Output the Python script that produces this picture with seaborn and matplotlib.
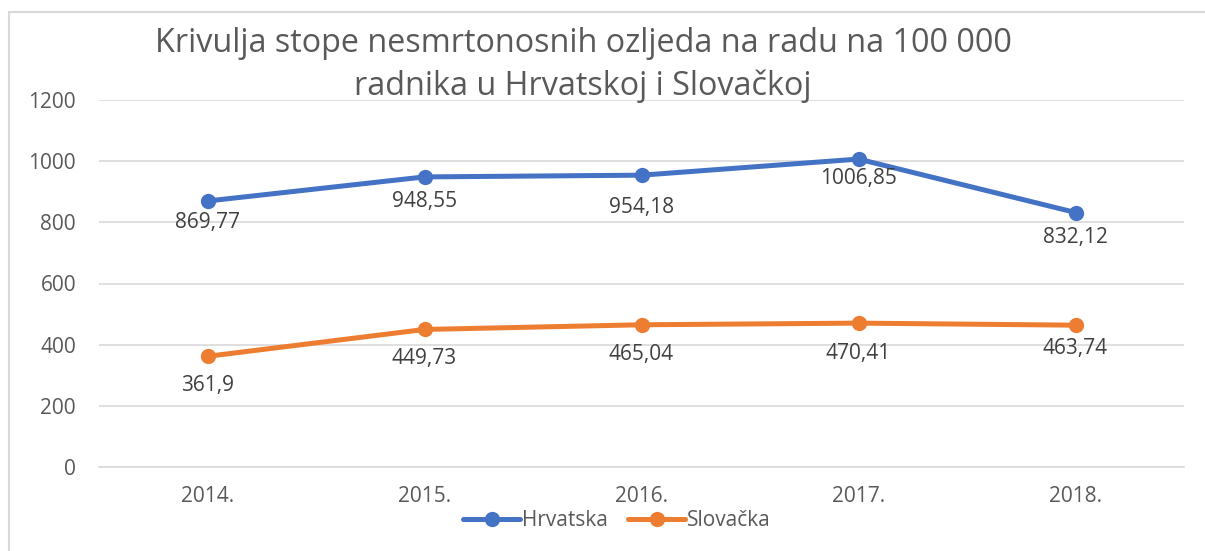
import matplotlib
matplotlib.use("Agg")
import matplotlib.pyplot as plt
import seaborn as sns
import pandas as pd
from matplotlib.patches import Rectangle

years = ["2014.", "2015.", "2016.", "2017.", "2018."]
hrvatska = [869.77, 948.55, 954.18, 1006.85, 832.12]
slovacka = [361.9, 449.73, 465.04, 470.41, 463.74]
series_names = ["Hrvatska", "Slovačka"]
title = "Krivulja stope nesmrtonosnih ozljeda na radu na 100 000\nradnika u Hrvatskoj i Slovačkoj"

# label offsets below points (pixels) - placement only
label_offsets = {
    "Hrvatska": [22, 25, 32, 19, 25],
    "Slovačka": [29, 29, 30, 30, 23],
}

sns.set_theme(style="white")
plt.rcParams['font.family'] = ['Open Sans', 'DejaVu Sans']

df = pd.DataFrame({
    "Godina": years * 2,
    "Vrijednost": hrvatska + slovacka,
    "Serija": [series_names[0]] * 5 + [series_names[1]] * 5,
})

colors = {"Hrvatska": "#4472C4", "Slovačka": "#ED7D31"}

fig = plt.figure(figsize=(12.05, 5.51), dpi=100)
ax = fig.add_axes([99 / 1205, 1 - 467 / 551, (1184 - 99) / 1205, (467 - 100) / 551])

sns.lineplot(data=df, x="Godina", y="Vrijednost", hue="Serija", palette=colors,
             marker="o", markersize=11, markeredgewidth=0, linewidth=3.6,
             sort=False, ax=ax, legend=True)

ax.set_xlim(-0.5, 4.5)
ax.set_ylim(0, 1200)
ax.set_yticks(range(0, 1201, 200))
ax.yaxis.grid(True, color="#D9D9D9", linewidth=1.2)
ax.xaxis.grid(False)
for s in ["left", "right", "top"]:
    ax.spines[s].set_visible(False)
ax.spines["bottom"].set_color("#D9D9D9")
ax.spines["bottom"].set_linewidth(1.2)
ax.set_xlabel("")
ax.set_ylabel("")
ax.tick_params(axis="both", length=0, labelsize=15, colors="#595959")
ax.tick_params(axis="y", pad=16.5)
ax.tick_params(axis="x", pad=14)

def fmt(v):
    s = f"{v:.2f}".rstrip("0").rstrip(".")
    return s.replace(".", ",")

for name, vals in zip(series_names, [hrvatska, slovacka]):
    for i, v in enumerate(vals):
        ax.annotate(fmt(v), (i, v), xytext=(0, -label_offsets[name][i] * 0.72),
                    textcoords="offset points", ha="center", va="center",
                    fontsize=15, color="#404040")

ax.legend(title=None, loc="center", bbox_to_anchor=(617 / 1205, 1 - 521 / 551),
          bbox_transform=fig.transFigure, ncol=2, frameon=False, fontsize=15,
          handlelength=2.7, handletextpad=0.1, columnspacing=1.0, labelcolor="#595959")

fig.text(583 / 1205, 1 - 65 / 551, title, ha="center", va="center",
         fontsize=23.3, color="#595959", linespacing=1.35)

fig.patches.append(Rectangle((9 / 1205, -0.1), 1.2, 1 - 12 / 551 + 0.1,
                             transform=fig.transFigure, fill=False,
                             edgecolor="#D9D9D9", linewidth=1.5))

fig.savefig("out.png", dpi=100)
